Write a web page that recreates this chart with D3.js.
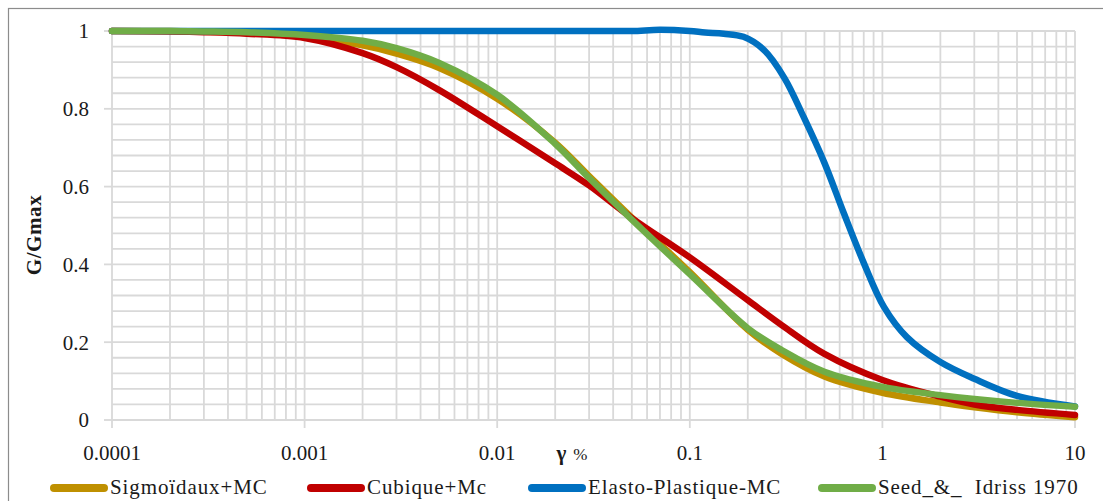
<!DOCTYPE html>
<html>
<head>
<meta charset="utf-8">
<script src="https://cdn.jsdelivr.net/npm/d3@7"></script>
<style>
  html, body { margin: 0; padding: 0; background: #fff; }
  svg { display: block; }
</style>
</head>
<body>
<svg id="chart" width="1103" height="501"></svg>
<script>
// ---- data ----
const seriesNames = ["Sigmoïdaux+MC", "Cubique+Mc", "Elasto-Plastique-MC", "Seed_&_  Idriss 1970"];
const seriesColors = ["#BF9000", "#C00000", "#0070C0", "#70AD47"];

const gammaStd = [0.0001, 0.0002, 0.0003, 0.0005, 0.001, 0.002, 0.003, 0.005, 0.01, 0.02, 0.03, 0.05, 0.1, 0.2, 0.3, 0.5, 1, 2, 3, 5, 10];
const sigmoidG = [1.0, 1.0, 0.998, 0.995, 0.985, 0.963, 0.942, 0.905, 0.826, 0.713, 0.627, 0.52, 0.38, 0.232, 0.17, 0.112, 0.07, 0.045, 0.033, 0.02, 0.007];
const cubiqueG = [1.0, 0.999, 0.997, 0.993, 0.982, 0.943, 0.907, 0.848, 0.755, 0.66, 0.603, 0.519, 0.418, 0.308, 0.244, 0.17, 0.103, 0.06, 0.04, 0.026, 0.013];
const seedG    = [1.0, 1.0, 0.999, 0.997, 0.99, 0.975, 0.956, 0.918, 0.836, 0.71, 0.622, 0.515, 0.375, 0.236, 0.18, 0.124, 0.085, 0.064, 0.054, 0.044, 0.034];

const gammaElasto = [0.0001, 0.001, 0.01, 0.03, 0.05, 0.07, 0.1, 0.12, 0.15, 0.19, 0.243, 0.31, 0.39, 0.5, 0.63, 0.8, 1.02, 1.34, 2, 3, 5, 10];
const elastoG     = [1.0, 1.0, 1.0, 1.0, 1.0, 1.003, 1.0, 0.996, 0.993, 0.985, 0.951, 0.879, 0.779, 0.661, 0.532, 0.404, 0.29, 0.213, 0.149, 0.106, 0.062, 0.035];

const xTickValues = [0.0001, 0.001, 0.01, 0.1, 1, 10];
const xTickLabels = ["0.0001", "0.001", "0.01", "0.1", "1", "10"];
const yTickValues = [0, 0.2, 0.4, 0.6, 0.8, 1];
const yTickLabels = ["0", "0.2", "0.4", "0.6", "0.8", "1"];

// ---- layout ----
const svg = d3.select("#chart");
const pLeft = 112, pRight = 1075, pTop = 31, pBottom = 420;
const x = d3.scaleLog().domain([0.0001, 10]).range([pLeft, pRight]);
const y = d3.scaleLinear().domain([0, 1]).range([pBottom, pTop]);
const txtColor = "#1a1a1a";
const fam = '"Liberation Serif", "Times New Roman", serif';

svg.append("rect").attr("x", 8.5).attr("y", 8.5).attr("width", 1110).attr("height", 510)
  .attr("fill", "none").attr("stroke", "#8c8c8c").attr("stroke-width", 1.2);

const gridColor = "#d9d9d9";
const vGrid = [];
for (let e = -4; e <= 0; e++) for (let m = 1; m <= 9; m++) vGrid.push(m * Math.pow(10, e));
vGrid.push(10);
svg.append("g").selectAll("line").data(vGrid).join("line")
  .attr("x1", d => x(d)).attr("x2", d => x(d))
  .attr("y1", pTop).attr("y2", pBottom)
  .attr("stroke", gridColor).attr("stroke-width", 1.8);
const hGrid = d3.range(0, 26).map(i => i * 0.04);
svg.append("g").selectAll("line").data(hGrid).join("line")
  .attr("x1", pLeft).attr("x2", pRight)
  .attr("y1", d => y(d)).attr("y2", d => y(d))
  .attr("stroke", gridColor).attr("stroke-width", 1.8);

svg.append("g").selectAll("line").data(yTickValues).join("line")
  .attr("x1", pLeft - 8).attr("x2", pLeft).attr("y1", d => y(d)).attr("y2", d => y(d))
  .attr("stroke", gridColor).attr("stroke-width", 1.8);
svg.append("g").selectAll("line").data(xTickValues).join("line")
  .attr("x1", d => x(d)).attr("x2", d => x(d)).attr("y1", pBottom).attr("y2", pBottom + 8)
  .attr("stroke", gridColor).attr("stroke-width", 1.8);

svg.append("g").selectAll("text").data(yTickValues).join("text")
  .attr("x", 89).attr("y", d => y(d)).attr("dy", "0.35em")
  .attr("text-anchor", "end").attr("font-size", 21).attr("fill", txtColor)
  .style("font-family", fam)
  .text((d, i) => yTickLabels[i]);
svg.append("g").selectAll("text").data(xTickValues).join("text")
  .attr("x", d => x(d)).attr("y", 460)
  .attr("text-anchor", "middle").attr("font-size", 21).attr("fill", txtColor)
  .style("font-family", fam)
  .text((d, i) => xTickLabels[i]);

svg.append("text").attr("transform", "translate(41,235) rotate(-90)")
  .attr("text-anchor", "middle").attr("font-size", 21).attr("font-weight", "bold").attr("fill", txtColor)
  .style("font-family", fam).style("letter-spacing", "0.6px")
  .text("G/Gmax");
const xt = svg.append("text").attr("x", 572).attr("y", 460).attr("text-anchor", "middle").attr("fill", txtColor)
  .style("font-family", fam);
xt.append("tspan").attr("font-size", 21).attr("font-weight", "bold").text("γ");
xt.append("tspan").attr("font-size", 17).attr("dx", 7).text("%");

const seriesData = [
  gammaStd.map((g, i) => [g, sigmoidG[i]]),
  gammaStd.map((g, i) => [g, cubiqueG[i]]),
  gammaElasto.map((g, i) => [g, elastoG[i]]),
  gammaStd.map((g, i) => [g, seedG[i]])
];
const line = d3.line().x(d => x(d[0])).y(d => y(d[1])).curve(d3.curveCatmullRom.alpha(0.5));
svg.append("g").selectAll("path").data(seriesData).join("path")
  .attr("d", line).attr("fill", "none")
  .attr("stroke", (d, i) => seriesColors[i])
  .attr("stroke-width", 6.5).attr("stroke-linejoin", "round").attr("stroke-linecap", "round");

const legendX = [54, 311, 532, 822];
const lg = svg.append("g").selectAll("g").data(seriesNames).join("g")
  .attr("transform", (d, i) => `translate(${legendX[i]},488)`);
lg.append("line").attr("x1", 0).attr("x2", 50).attr("y1", 0).attr("y2", 0)
  .attr("stroke", (d, i) => seriesColors[i]).attr("stroke-width", 8).attr("stroke-linecap", "round");
lg.append("text").attr("x", 56).attr("y", 6).attr("font-size", 21).attr("fill", txtColor)
  .style("font-family", fam).style("letter-spacing", "0.9px").style("white-space", "pre")
  .text(d => d);
</script>
</body>
</html>
